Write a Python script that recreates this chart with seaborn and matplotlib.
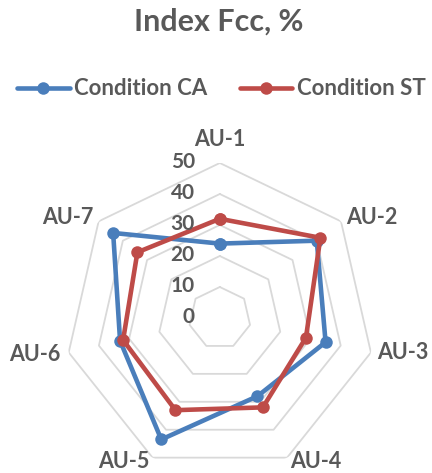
import numpy as np
import pandas as pd
import matplotlib
matplotlib.use("Agg")
import matplotlib.pyplot as plt
from matplotlib.lines import Line2D
import seaborn as sns

# Index Fcc (%) per action unit, two conditions
categories = ["AU-1", "AU-2", "AU-3", "AU-4", "AU-5", "AU-6", "AU-7"]
condition_ca = [24, 40, 35, 28, 43.5, 33, 44]
condition_st = [32, 41.5, 28.5, 32, 33, 32, 34]
series_names = ["Condition CA", "Condition ST"]
radial_ticks = [0, 10, 20, 30, 40, 50]

sns.set_style("white")
plt.rcParams["font.family"] = ["Lato", "DejaVu Sans"]

TEXT = "#595959"
GRID = "#d9d9d9"
colors = {"Condition CA": "#4A7EBB", "Condition ST": "#BE4B48"}

n = len(categories)
theta = np.arange(n) * 2 * np.pi / n
closed_theta = np.append(theta, 2 * np.pi)

# long-form table, each polygon closed by repeating its first vertex
frames = []
for name, vals in zip(series_names, [condition_ca, condition_st]):
    frames.append(pd.DataFrame({"condition": name, "theta": closed_theta,
                                "value": list(vals) + [vals[0]]}))
df = pd.concat(frames, ignore_index=True)

fig = plt.figure(figsize=(4.32, 4.73), dpi=100)
ax = fig.add_axes([0.150, 0.0, 0.7176, 0.6554], projection="polar")
ax.set_theta_offset(np.pi / 2)
ax.set_theta_direction(-1)
ax.set_ylim(0, 50)
ax.grid(False)
ax.spines["polar"].set_visible(False)
ax.set_xticks([])
ax.set_yticks([])

# heptagonal gridlines
for v in radial_ticks[1:]:
    ax.plot(closed_theta, [v] * len(closed_theta), color=GRID, lw=1.3, zorder=1)

sns.lineplot(data=df, x="theta", y="value", hue="condition", palette=colors,
             sort=False, estimator=None, marker="o", markersize=9,
             markeredgewidth=0, linewidth=3.3, legend=False, ax=ax, zorder=3)
ax.set_xlabel("")
ax.set_ylabel("")

# radial value labels along the first spoke
for v in radial_ticks:
    ax.annotate(str(v), xy=(0, v), xytext=(-18, 1), textcoords="offset points",
                ha="right", va="center", fontsize=15, fontweight="bold",
                color=TEXT, annotation_clip=False)

# category labels just outside the outer ring
label_style = {
    "AU-1": ((0, 9.5), "center", "bottom"),
    "AU-2": ((3.6, 3), "left", "center"),
    "AU-3": ((4.3, 0), "left", "center"),
    "AU-4": ((2, 4.8), "left", "top"),
    "AU-5": ((-2, 4.8), "right", "top"),
    "AU-6": ((-5.8, -1.5), "right", "center"),
    "AU-7": ((-3.6, 3), "right", "center"),
}
for t, name in zip(theta, categories):
    off, ha, va = label_style[name]
    ax.annotate(name, xy=(t, 50), xytext=off, textcoords="offset points",
                ha=ha, va=va, fontsize=15.5, fontweight="bold", color=TEXT,
                annotation_clip=False)

fig.text(0.507, 0.955, "Index Fcc, %", ha="center", va="center",
         fontsize=22, fontweight="bold", color=TEXT)

handles = [Line2D([], [], color=colors[s], lw=3.3, marker="o", markersize=9,
                  markeredgewidth=0) for s in series_names]
leg = fig.legend(handles, series_names, loc="center", bbox_to_anchor=(0.513, 0.812),
                 ncol=2, frameon=False, fontsize=16, handlelength=2.35,
                 handletextpad=0.22, columnspacing=1.45, borderpad=0,
                 borderaxespad=0)
for txt in leg.get_texts():
    txt.set_color(TEXT)
    txt.set_fontweight("bold")

fig.savefig("out.png", dpi=100)
